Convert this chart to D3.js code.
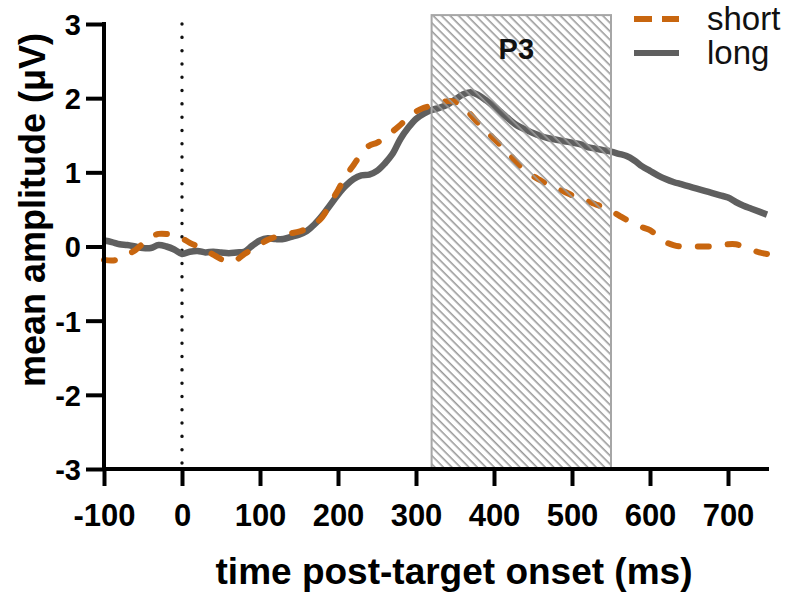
<!DOCTYPE html>
<html><head><meta charset="utf-8">
<script src="https://cdn.jsdelivr.net/npm/d3@7"></script>
<style>body{margin:0;background:#fff}svg{display:block}text{font-family:"Liberation Sans",Arial,sans-serif}</style>
</head><body><svg id="c" width="792" height="598"></svg>
<script>
const timeMs = [-100,-90,-80,-70,-60,-50,-40,-30,-20,-10,0,10,20,30,40,50,60,70,80,90,100,110,120,130,140,150,160,170,180,190,200,210,220,230,240,250,260,270,280,290,300,310,320,330,340,350,360,370,380,390,400,410,420,430,440,450,460,470,480,490,500,510,520,530,540,550,560,570,580,590,600,610,620,630,640,650,660,670,680,690,700,710,720,730,740,750];
const shortVals = [-0.18,-0.19,-0.17,-0.11,-0.05,0.04,0.13,0.17,0.17,0.15,0.11,0.05,0.0,-0.05,-0.11,-0.17,-0.21,-0.18,-0.10,-0.04,0.03,0.09,0.13,0.16,0.18,0.20,0.24,0.30,0.40,0.58,0.76,0.95,1.10,1.25,1.36,1.40,1.46,1.55,1.64,1.74,1.82,1.87,1.90,1.93,1.96,1.95,1.90,1.78,1.66,1.56,1.45,1.35,1.24,1.12,1.02,0.95,0.89,0.83,0.78,0.74,0.69,0.64,0.61,0.57,0.53,0.48,0.42,0.36,0.31,0.26,0.22,0.14,0.06,0.02,0.0,0.0,0.0,0.0,0.0,0.01,0.03,0.03,0.0,-0.04,-0.08,-0.10];
const longVals = [0.08,0.06,0.03,0.02,0.0,-0.02,-0.02,0.02,0.0,-0.04,-0.10,-0.07,-0.06,-0.08,-0.07,-0.08,-0.09,-0.08,-0.07,0.01,0.08,0.11,0.10,0.10,0.13,0.16,0.21,0.30,0.42,0.56,0.70,0.82,0.91,0.96,0.97,1.02,1.12,1.25,1.45,1.60,1.72,1.79,1.84,1.87,1.91,1.98,2.05,2.08,2.04,1.97,1.89,1.80,1.71,1.63,1.58,1.53,1.49,1.46,1.44,1.42,1.40,1.38,1.34,1.32,1.30,1.28,1.25,1.22,1.16,1.08,1.02,0.96,0.91,0.87,0.84,0.81,0.78,0.75,0.72,0.69,0.66,0.60,0.55,0.51,0.47,0.43];
const seriesNames = ["short","long"];
const xTicks = [-100,0,100,200,300,400,500,600,700];
const yTicks = [-3,-2,-1,0,1,2,3];
const p3Window = [320,550];
const p3Range = [-3,3.12];
const p3Label = "P3";
const xTitle = "time post-target onset (ms)";
const yTitle = "mean amplitude (\u03bcV)";

const colors = {short:"#c8660f", long:"#5f5f5f"};
const svg = d3.select("#c");
const x = d3.scaleLinear().domain([-100,750]).range([104,767]);
const y = d3.scaleLinear().domain([-3,3]).range([469,24]);

// hatch pattern
const defs = svg.append("defs");
const pat = defs.append("pattern").attr("id","hatch").attr("patternUnits","userSpaceOnUse")
  .attr("width",6).attr("height",6).attr("patternTransform","rotate(-45)");
pat.append("line").attr("x1",1.2).attr("y1",0).attr("x2",1.2).attr("y2",6)
  .attr("stroke","#9a9a9a").attr("stroke-width",1.6);

// dotted zero line
svg.append("line").attr("x1",x(0)).attr("x2",x(0)).attr("y1",y(3)).attr("y2",y(-3))
  .attr("stroke","#111").attr("stroke-width",3.4).attr("stroke-linecap","round").attr("stroke-dasharray","0.1,13.2");

const line = d3.line().x((d,i)=>x(timeMs[i])).y(d=>y(d)).curve(d3.curveCatmullRom);
svg.append("path").datum(longVals).attr("d",line).attr("fill","none")
  .attr("stroke",colors.long).attr("stroke-width",6.5).attr("stroke-linejoin","round");
svg.append("path").datum(shortVals).attr("d",line).attr("fill","none")
  .attr("stroke",colors.short).attr("stroke-width",6).attr("stroke-linecap","round")
  .attr("stroke-dasharray","11,19");

// P3 window
svg.append("rect").attr("x",x(p3Window[0])).attr("y",y(p3Range[1]))
  .attr("width",x(p3Window[1])-x(p3Window[0])).attr("height",y(p3Range[0])-y(p3Range[1]))
  .attr("fill","url(#hatch)").attr("stroke","#a6a6a6").attr("stroke-width",2);
svg.append("text").attr("x",x((p3Window[0]+p3Window[1])/2)-5).attr("y",59)
  .attr("text-anchor","middle").attr("font-weight","bold").attr("font-size",29).attr("fill","#111").text(p3Label);

// axes
const fmt = d => String(d);
const xAxis = svg.append("g").attr("transform",`translate(0,${y(-3)})`)
  .call(d3.axisBottom(x).tickValues(xTicks).tickSize(17).tickPadding(4).tickFormat(fmt));
const yAxis = svg.append("g").attr("transform",`translate(${x(-100)},0)`)
  .call(d3.axisLeft(y).tickValues(yTicks).tickSize(18).tickPadding(5).tickFormat(fmt));
[xAxis,yAxis].forEach(g=>{
  g.select(".domain").attr("stroke","#000").attr("stroke-width",4);
  g.selectAll(".tick line").attr("stroke","#000").attr("stroke-width",4);
  g.selectAll(".tick text").attr("fill","#000").attr("font-weight","bold")
   .attr("font-family","'Liberation Sans',Arial,sans-serif").attr("font-size",31);
});
xAxis.select(".domain").attr("d",`M${x(-100)},0H${x(750)+2}`);
yAxis.select(".domain").attr("d",`M0,${y(3)-2}V${y(-3)+2}`);
xAxis.selectAll(".tick text").attr("dy","1.15em");
yAxis.selectAll(".tick text").attr("dy","0.36em").attr("font-size",29);

// titles
svg.append("text").attr("x",454).attr("y",584).attr("text-anchor","middle")
  .attr("font-weight","bold").attr("font-size",37).text(xTitle);
svg.append("text").attr("transform","translate(45,210) rotate(-90)").attr("text-anchor","middle")
  .attr("font-weight","bold").attr("font-size",36).text(yTitle);

// legend
const leg = svg.append("g");
seriesNames.forEach((s,i)=>{
  const yy = 19 + i*34;
  leg.append("line").attr("x1",634).attr("x2",679).attr("y1",yy).attr("y2",yy)
    .attr("stroke",colors[s]).attr("stroke-width",6)
    .attr("stroke-dasharray", s==="short" ? "18,10" : null);
  leg.append("text").attr("x",707).attr("y",yy+11).attr("font-size",33).attr("fill","#111").text(s);
});
</script></body></html>
